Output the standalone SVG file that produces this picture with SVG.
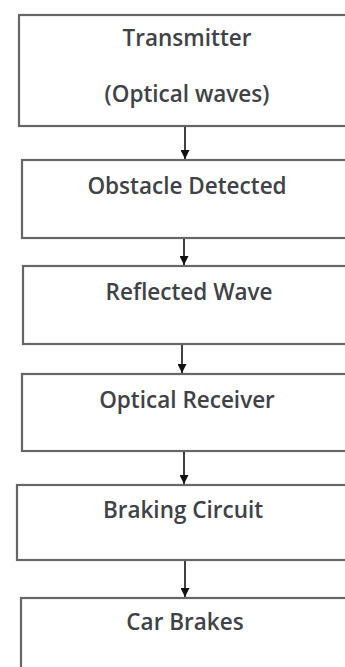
<svg xmlns="http://www.w3.org/2000/svg" width="345" height="667" viewBox="0 0 345 667">
<defs>
<style>
.box{fill:#fff;stroke:#666;stroke-width:2.2}
.lbl{font-family:"Open Sans","Liberation Sans",sans-serif;font-size:22.5px;font-weight:600;fill:#3f4246;text-anchor:middle}
.conn{stroke:#111;stroke-width:1.6;fill:none}
</style>
<marker id="ah" viewBox="0 0 10 10" refX="10" refY="5" markerWidth="9" markerHeight="9" markerUnits="userSpaceOnUse" orient="auto">
<path d="M0,0 L10,5 L0,10 Z" fill="#111"/>
</marker>
</defs>
<rect width="345" height="667" fill="#fff"/>
<g id="n1"><rect class="box" x="19" y="15" width="340" height="111"/>
<text class="lbl" x="187" y="46">Transmitter</text>
<text class="lbl" x="187" y="102">(Optical waves)</text></g>
<g id="n2"><rect class="box" x="22" y="160" width="340" height="78"/>
<text class="lbl" x="187" y="194">Obstacle Detected</text></g>
<g id="n3"><rect class="box" x="23" y="266" width="340" height="78"/>
<text class="lbl" x="189" y="300">Reflected Wave</text></g>
<g id="n4"><rect class="box" x="22" y="374" width="340" height="77"/>
<text class="lbl" x="187" y="408">Optical Receiver</text></g>
<g id="n5"><rect class="box" x="17" y="485" width="340" height="75"/>
<text class="lbl" x="183" y="518">Braking Circuit</text></g>
<g id="n6"><rect class="box" x="21" y="598" width="340" height="90"/>
<text class="lbl" x="185" y="630">Car Brakes</text></g>
<g id="connectors">
<line class="conn" x1="185" y1="127" x2="185" y2="159" marker-end="url(#ah)"/>
<line class="conn" x1="184" y1="239" x2="184" y2="265" marker-end="url(#ah)"/>
<line class="conn" x1="182" y1="345" x2="182" y2="373" marker-end="url(#ah)"/>
<line class="conn" x1="184" y1="452" x2="184" y2="484" marker-end="url(#ah)"/>
<line class="conn" x1="185" y1="561" x2="185" y2="597" marker-end="url(#ah)"/>
</g>
</svg>
